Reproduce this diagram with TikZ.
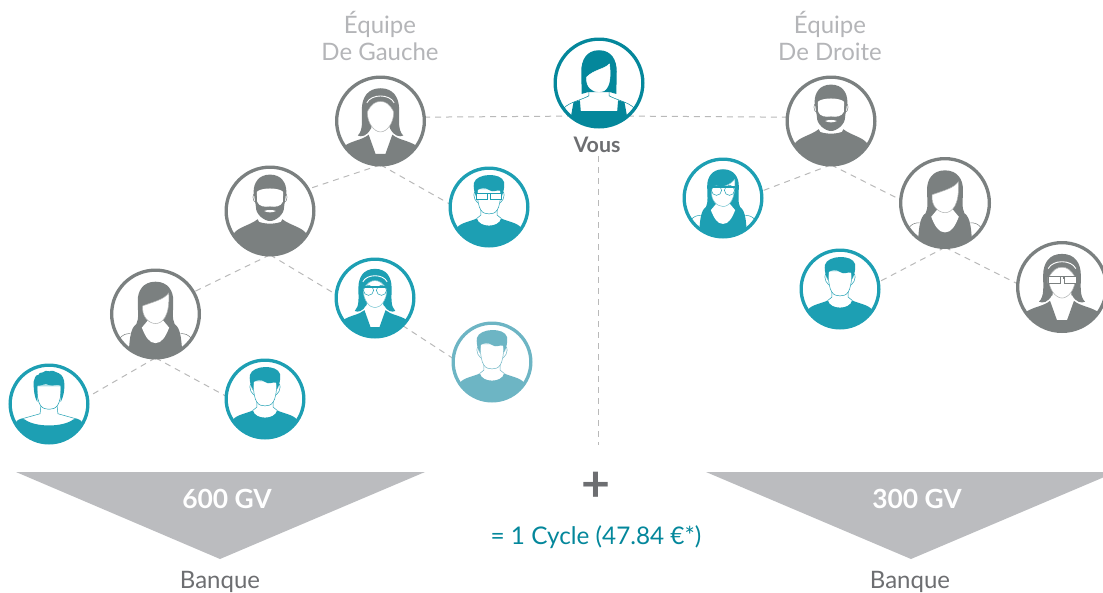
\documentclass[tikz,border=0pt]{standalone}
\usepackage{fontspec}
\setmainfont{Lato}
\usetikzlibrary{backgrounds}
\definecolor{cteal}{HTML}{1D9FB3}
\definecolor{cdeep}{HTML}{04879B}
\definecolor{clight}{HTML}{6DB5C4}
\definecolor{cgray}{HTML}{7B8080}
\definecolor{ctri}{HTML}{BBBCBF}
\definecolor{ctitle}{HTML}{B4B5B8}
\definecolor{ctext}{HTML}{6D6E71}
\definecolor{cdash}{HTML}{B9B9B9}
\tikzset{
  avatarring/.style={circle,line width=3.3pt,fill=white,inner sep=0pt,outer sep=0pt},
  thinl/.style={draw=ac,line width=0.5pt},
  link/.style={draw=cdash,line width=1pt,dash pattern=on 6pt off 5pt},
  teamlabel/.style={text=ctitle,font=\fontsize{24}{26}\selectfont,inner sep=0pt},
  banklabel/.style={text=ctext,font=\fontsize{24}{26}\selectfont,inner sep=0pt},
  gvlabel/.style={text=white,font=\bfseries\fontsize{26.4}{28}\selectfont,inner sep=0pt},
  voidtri/.style={fill=ctri,draw=none},
}
\newcommand{\avatar}[6]{%
  \node[avatarring,draw=#5,minimum size={2*#4-3.3}] (#1) at (#2,#3) {};
  \begin{scope}[shift={(#2,#3)},x=#4pt,y=#4pt]
    \colorlet{ac}{#5}
    \clip (0,0) circle (0.95);
    #6
  \end{scope}}
% pieces, unit circle, y up
\newcommand{\faceoval}[3]{% half width, top, bottom
  \filldraw[fill=white,thinl] (-#1,#2) .. controls (-#1,{#3+0.06}) and (-0.16,#3) .. (0,#3) .. controls (0.16,#3) and (#1,{#3+0.06}) .. (#1,#2) -- cycle;}
\newcommand{\shirt}{%
  \fill[ac] (-1,-1.2) -- (-0.8,-0.52) .. controls (-0.7,-0.38) and (-0.45,-0.36) .. (-0.3,-0.28)
   .. controls (-0.25,-0.52) and (0.25,-0.52) .. (0.3,-0.28) .. controls (0.45,-0.36) and (0.7,-0.38) .. (0.8,-0.52) -- (1,-1.2) -- cycle;
  \draw[thinl] (-0.2,-0.05) -- (-0.2,-0.2) -- (-0.3,-0.28) (0.2,-0.05) -- (0.2,-0.2) -- (0.3,-0.28);}
\newcommand{\ears}{%
  \draw[thinl] (-0.31,0.38) .. controls (-0.4,0.42) and (-0.4,0.2) .. (-0.28,0.1)
               (0.31,0.38) .. controls (0.4,0.42) and (0.4,0.2) .. (0.28,0.1);}
\newcommand{\artman}{%
  \shirt \ears \faceoval{0.29}{0.45}{-0.17}
  \fill[ac] (-0.31,0.22) .. controls (-0.37,0.38) and (-0.39,0.5) .. (-0.37,0.6) .. controls (-0.3,0.84) and (0.3,0.86) .. (0.37,0.62)
   .. controls (0.39,0.5) and (0.36,0.38) .. (0.31,0.24) -- (0.28,0.4) .. controls (0.2,0.44) and (0.1,0.34) .. (0,0.42) .. controls (-0.1,0.5) and (-0.22,0.46) .. (-0.28,0.42) -- cycle;}
% rectangular glasses: top y, bottom y
\newcommand{\rectglasses}[2]{%
  \filldraw[fill=white,draw=ac,line width=0.5pt] (-0.31,#1) rectangle (-0.04,#2) (0.04,#1) rectangle (0.31,#2);
  \draw[ac,line width=1.3pt] (-0.33,#1) -- (0.33,#1) (-0.04,#1) -- (-0.04,{#1-0.05}) (0.04,#1) -- (0.04,{#1-0.05});}
\newcommand{\roundglasses}{%
  \filldraw[fill=white,draw=ac,line width=0.5pt] (-0.16,0.19) circle (0.125) (0.16,0.19) circle (0.125);
  \draw[ac,line width=1.3pt] (-0.3,0.27) -- (0.3,0.27);}
\newcommand{\artband}{%
  \fill[ac] (-1,-1.2) -- (-0.8,-0.55) .. controls (-0.6,-0.42) and (-0.4,-0.42) .. (-0.26,-0.3) -- (-0.11,-0.72) -- (0.11,-0.72) -- (0.26,-0.3)
    .. controls (0.4,-0.42) and (0.6,-0.42) .. (0.8,-0.55) -- (1,-1.2) -- cycle;
  \fill[ac] (0,0.72) .. controls (0.28,0.72) and (0.41,0.52) .. (0.41,0.25) .. controls (0.41,0) and (0.38,-0.2) .. (0.5,-0.32)
    .. controls (0.42,-0.36) and (0.3,-0.33) .. (0.22,-0.18) -- (-0.22,-0.18) .. controls (-0.3,-0.33) and (-0.42,-0.36) .. (-0.5,-0.32)
    .. controls (-0.38,-0.2) and (-0.41,0) .. (-0.41,0.25) .. controls (-0.41,0.52) and (-0.28,0.72) .. (0,0.72) -- cycle;
  \fill[white] (-0.2,-0.12) -- (0.2,-0.12) -- (0.22,-0.36) -- (-0.22,-0.36) -- cycle;
  \filldraw[fill=white,draw=ac!60!white,line width=0.5pt] (-0.29,0.2) .. controls (-0.2,0.38) and (-0.1,0.43) .. (0,0.43) .. controls (0.1,0.43) and (0.2,0.38) .. (0.29,0.2)
     .. controls (0.29,-0.05) and (0.14,-0.24) .. (0,-0.24) .. controls (-0.14,-0.24) and (-0.29,-0.05) .. (-0.29,0.2) -- cycle;
  \draw[white,line width=0.9pt] (-0.3,0.4) .. controls (-0.2,0.6) and (0.2,0.6) .. (0.3,0.4);}
\newcommand{\artlong}{%
  \draw[thinl] (-0.8,-0.55) .. controls (-0.72,-0.45) and (-0.65,-0.43) .. (-0.55,-0.43)
               (0.8,-0.55) .. controls (0.72,-0.45) and (0.65,-0.43) .. (0.55,-0.43);
  \fill[ac] (0,0.71) .. controls (0.28,0.71) and (0.39,0.5) .. (0.39,0.3) .. controls (0.39,0.05) and (0.36,-0.1) .. (0.42,-0.22)
    .. controls (0.56,-0.32) and (0.58,-0.55) .. (0.6,-1.2) -- (-0.6,-1.2) .. controls (-0.58,-0.55) and (-0.56,-0.32) .. (-0.42,-0.22)
    .. controls (-0.36,-0.1) and (-0.39,0.05) .. (-0.39,0.3) .. controls (-0.39,0.5) and (-0.28,0.71) .. (0,0.71) -- cycle;
  \fill[white] (-0.3,-0.3) .. controls (-0.22,-0.5) and (-0.14,-0.64) .. (0,-0.64) .. controls (0.14,-0.64) and (0.22,-0.5) .. (0.3,-0.3) -- (0.15,-0.12) -- (-0.15,-0.12) -- cycle;
  \filldraw[fill=white,draw=ac!60!white,line width=0.5pt] (-0.28,0.18) .. controls (-0.31,-0.05) and (-0.15,-0.21) .. (0,-0.21) .. controls (0.15,-0.21) and (0.32,-0.05) .. (0.29,0.46)
    .. controls (0.18,0.32) and (0,0.28) .. (-0.28,0.18) -- cycle;}
\newcommand{\artvous}{%
  \draw[thinl] (-0.77,-0.55) .. controls (-0.65,-0.42) and (-0.4,-0.38) .. (-0.22,-0.28) -- (-0.22,-0.1)
               (0.77,-0.55) .. controls (0.65,-0.42) and (0.4,-0.38) .. (0.22,-0.28) -- (0.22,-0.1);
  \fill[ac] (-0.56,-0.42) -- (-0.42,-0.38) -- (-0.4,-0.62) -- (0.4,-0.62) -- (0.42,-0.38) -- (0.56,-0.42) -- (0.7,-1.2) -- (-0.7,-1.2) -- cycle;
  \fill[ac] (0,0.72) .. controls (0.28,0.72) and (0.39,0.5) .. (0.39,0.25) .. controls (0.39,0.05) and (0.38,-0.1) .. (0.38,-0.24)
    -- (0.24,-0.2) -- (-0.24,-0.2) -- (-0.38,-0.24) .. controls (-0.38,-0.1) and (-0.39,0.05) .. (-0.39,0.25) .. controls (-0.39,0.5) and (-0.28,0.72) .. (0,0.72) -- cycle;
  \filldraw[fill=white,draw=white,line width=0.5pt] (-0.27,0.13) .. controls (-0.3,-0.07) and (-0.15,-0.2) .. (0,-0.2) .. controls (0.15,-0.2) and (0.29,-0.07) .. (0.23,0.42)
    .. controls (0.12,0.3) and (-0.1,0.3) .. (-0.27,0.13) -- cycle;}
\newcommand{\artcurly}{%
  \fill[ac] (-1,-1.2) -- (-0.8,-0.42) .. controls (-0.72,-0.36) and (-0.66,-0.35) .. (-0.6,-0.38) .. controls (-0.35,-0.58) and (0.35,-0.58) .. (0.6,-0.38)
    .. controls (0.66,-0.35) and (0.72,-0.36) .. (0.8,-0.42) -- (1,-1.2) -- cycle;
  \draw[thinl] (-0.72,-0.38) -- (-0.22,-0.24) -- (-0.2,-0.05) (0.72,-0.38) -- (0.22,-0.24) -- (0.2,-0.05);
  \faceoval{0.3}{0.45}{-0.13}
  \fill[ac] (-0.29,0.05) .. controls (-0.38,0.2) and (-0.38,0.45) .. (-0.38,0.55) .. controls (-0.34,0.62) and (-0.36,0.72) .. (-0.26,0.72)
    .. controls (-0.24,0.8) and (-0.14,0.76) .. (-0.12,0.8) .. controls (-0.08,0.85) and (0,0.78) .. (0.05,0.82) .. controls (0.12,0.84) and (0.18,0.76) .. (0.24,0.76)
    .. controls (0.34,0.72) and (0.38,0.6) .. (0.38,0.48) .. controls (0.38,0.3) and (0.36,0.2) .. (0.29,0.05)
    -- (0.29,0.45) .. controls (0.2,0.52) and (0.1,0.42) .. (0,0.47) .. controls (-0.1,0.52) and (-0.2,0.44) .. (-0.29,0.45) -- cycle;}
\newcommand{\artbeard}{%
  \fill[ac] (-1,-1.2) -- (-0.8,-0.5) .. controls (-0.7,-0.35) and (-0.45,-0.32) .. (-0.27,-0.18) -- (-0.24,-0.24) .. controls (-0.1,-0.29) and (0.1,-0.29) .. (0.24,-0.24) -- (0.27,-0.18)
    .. controls (0.45,-0.32) and (0.7,-0.35) .. (0.8,-0.5) -- (1,-1.2) -- cycle;
  \draw[thinl] (-0.3,0.4) .. controls (-0.4,0.42) and (-0.4,0.2) .. (-0.3,0.18) (0.3,0.4) .. controls (0.4,0.42) and (0.4,0.2) .. (0.3,0.18);
  \fill[ac] (0,0.8) .. controls (0.25,0.8) and (0.36,0.62) .. (0.36,0.42) -- (0.31,0.1) .. controls (0.32,-0.08) and (0.12,-0.22) .. (0,-0.22)
     .. controls (-0.12,-0.22) and (-0.32,-0.08) .. (-0.31,0.1) -- (-0.36,0.42) .. controls (-0.36,0.62) and (-0.25,0.8) .. (0,0.8) -- cycle;
  \fill[white] (-0.29,0.42) .. controls (-0.2,0.52) and (0.2,0.52) .. (0.29,0.42) -- (0.28,0.2) .. controls (0.24,0.1) and (0.12,0.08) .. (0,0.1) .. controls (-0.12,0.08) and (-0.24,0.1) .. (-0.28,0.2) -- cycle;
  \fill[white] (-0.13,0) .. controls (-0.05,0.03) and (0.05,0.03) .. (0.13,0) .. controls (0.05,-0.04) and (-0.05,-0.04) .. (-0.13,0) -- cycle;}
\begin{document}
\begin{tikzpicture}[x=1pt,y=-1pt]
\useasboundingbox (0,0) rectangle (1103,592);
\clip (0,0) rectangle (1103,592);
% triangles
\path[voidtri] (16,472) -- (425,472) -- (220,559) -- cycle;
\path[voidtri] (706,472) -- (1116,472) -- (911,559) -- cycle;
\node[gvlabel] (gvl) at (227,499) {600 GV};
\node[gvlabel] (gvr) at (917,499) {300 GV};
\node[banklabel] (bl) at (220,582) {Banque};
\node[banklabel] (br) at (910,582) {Banque};
\node[teamlabel] (tl1) at (380,24) {Équipe};
\node[teamlabel] (tl2) at (380,51.5) {De Gauche};
\node[teamlabel] (tr1) at (830,24) {Équipe};
\node[teamlabel] (tr2) at (830,51.5) {De Droite};
\node[text=ctext,font=\bfseries\fontsize{21.4}{23}\selectfont,inner sep=0pt] (vous) at (597,145) {Vous};
\node[text=ctext,font=\bfseries\fontsize{50}{50}\selectfont,inner sep=0pt] (plus) at (596,487) {+};
\node[text=cdeep,font=\fontsize{24.3}{26}\selectfont,inner sep=0pt] (cycle) at (596,537) {= 1 Cycle (47.84 €*)};
\coordinate (vend) at (598,445);
% avatars
\avatar{a1}{380.5}{121}{45.5}{cgray}{\artband}
\avatar{vo}{599}{83}{45.5}{cdeep}{\artvous}
\avatar{a2}{270}{211}{45.5}{cgray}{\artbeard}
\avatar{a3}{489}{207}{40.5}{cteal}{\artman\rectglasses{0.33}{0.19}}
\avatar{a4}{155.5}{314}{45.5}{cgray}{\artlong}
\avatar{a5}{375}{298}{40.5}{cteal}{\artband\roundglasses}
\avatar{a6}{492}{362}{40.5}{clight}{\artman}
\avatar{a7}{49}{404}{40.5}{cteal}{\artcurly}
\avatar{a8}{265}{399}{40.5}{cteal}{\artman}
\avatar{b1}{831}{121}{45.5}{cgray}{\artbeard}
\avatar{b2}{723}{198}{40.5}{cteal}{\artlong\roundglasses}
\avatar{b3}{945}{203}{46}{cgray}{\artlong}
\avatar{b4}{840}{289}{40.5}{cteal}{\artman}
\avatar{b5}{1062}{287}{46}{cgray}{\artband\rectglasses{0.23}{0.08}}
% connectors
\begin{scope}[on background layer]
\draw[link] (a1.5) -- (vo.229);
\draw[link] (vo.311) -- (b1.175);
\draw[link] (vous.south -| vend) ++(0,3) -- (vend);
\draw[link] (a1.south) -- (a2.30);
\draw[link] (a1.south) -- (a3.176);
\draw[link] (a2.south) -- (a4.30);
\draw[link] (a2.south) -- (a5.175);
\draw[link] (a5.south east) -- (a6.175);
\draw[link] (a4.south) -- (a7.10);
\draw[link] (a4.south) -- (a8.176);
\draw[link] (b1.south) -- (b2.10);
\draw[link] (b1.south) -- (b3.176);
\draw[link] (b3.south) -- (b4.10);
\draw[link] (b3.south) -- (b5.176);
\end{scope}
\end{tikzpicture}
\end{document}
